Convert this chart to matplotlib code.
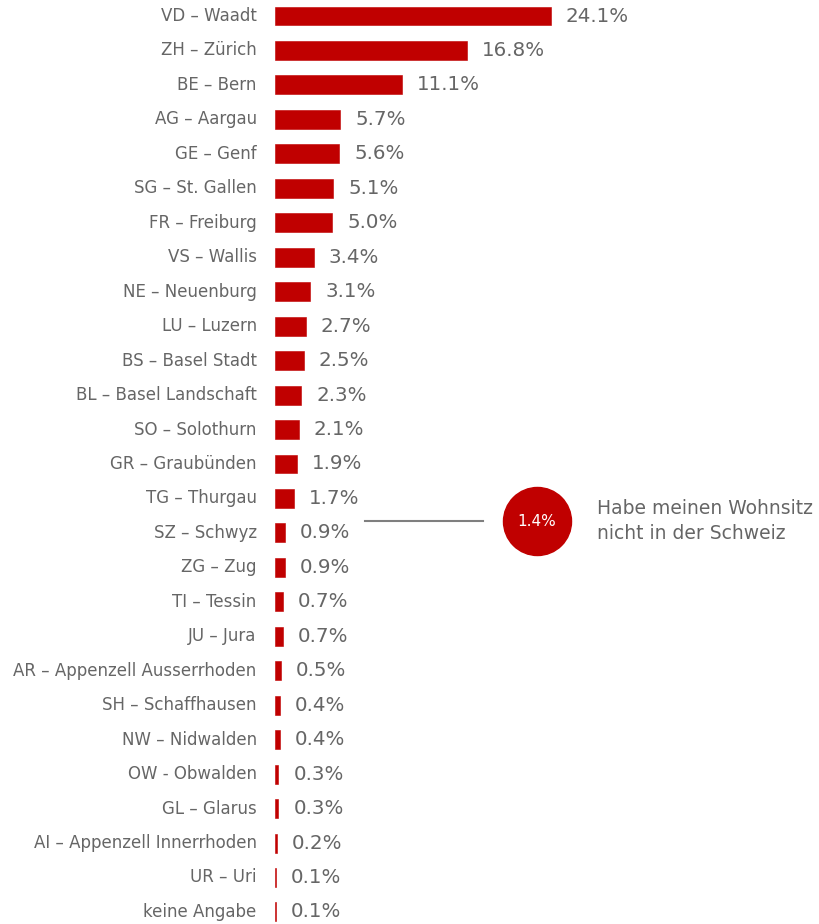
import numpy as np
import matplotlib.pyplot as plt

cantons = ["VD – Waadt", "ZH – Zürich", "BE – Bern", "AG – Aargau", "GE – Genf",
           "SG – St. Gallen", "FR – Freiburg", "VS – Wallis", "NE – Neuenburg",
           "LU – Luzern", "BS – Basel Stadt", "BL – Basel Landschaft", "SO – Solothurn",
           "GR – Graubünden", "TG – Thurgau", "SZ – Schwyz", "ZG – Zug", "TI – Tessin",
           "JU – Jura", "AR – Appenzell Ausserrhoden", "SH – Schaffhausen",
           "NW – Nidwalden", "OW - Obwalden", "GL – Glarus",
           "AI – Appenzell Innerrhoden", "UR – Uri", "keine Angabe"]
shares = [24.1, 16.8, 11.1, 5.7, 5.6, 5.1, 5.0, 3.4, 3.1, 2.7, 2.5, 2.3, 2.1,
          1.9, 1.7, 0.9, 0.9, 0.7, 0.7, 0.5, 0.4, 0.4, 0.3, 0.3, 0.2, 0.1, 0.1]
abroad_share = 1.4
abroad_label = "Habe meinen Wohnsitz\nnicht in der Schweiz"

red = "#C00000"
grey = "#666666"
plt.rcParams['font.family'] = ['DejaVu Sans']

W, H = 819, 924
fig = plt.figure(figsize=(W / 100, H / 100), dpi=100)
x0 = 275          # pixel where bars start
px_per_pct = 11.45
top, step = 16, 34.46
ax = fig.add_axes([x0 / W, 0, (W - x0) / W, 1])
ax.set_xlim(0, (W - x0) / px_per_pct)
ax.set_ylim((H - top) / step, -top / step)
ax.axis("off")

y = np.arange(len(cantons))
ax.barh(y, shares, height=0.55, color=red, edgecolor=red, linewidth=0.4)
for yi, name, v in zip(y, cantons, shares):
    ax.text(-1.6, yi, name, ha="right", va="center", fontsize=12, color=grey)
    ax.text(v + 1.3, yi, f"{v:.1f}%", ha="left", va="center", fontsize=14.3, color=grey)

# annotation for people living abroad
yc = (521 - top) / step
ax.plot([(365 - x0) / px_per_pct, (483 - x0) / px_per_pct], [yc, yc], color="#7f7f7f", lw=1.5)
ax.scatter([(537 - x0) / px_per_pct], [yc], s=2400, color=red, zorder=3)
ax.text((537 - x0) / px_per_pct, yc, f"{abroad_share:.1f}%", ha="center", va="center",
        fontsize=11, color="white", zorder=4)
ax.text((597 - x0) / px_per_pct, yc, abroad_label, ha="left", va="center",
        fontsize=13.5, color=grey, linespacing=1.4)

fig.savefig("out.png", dpi=100)
